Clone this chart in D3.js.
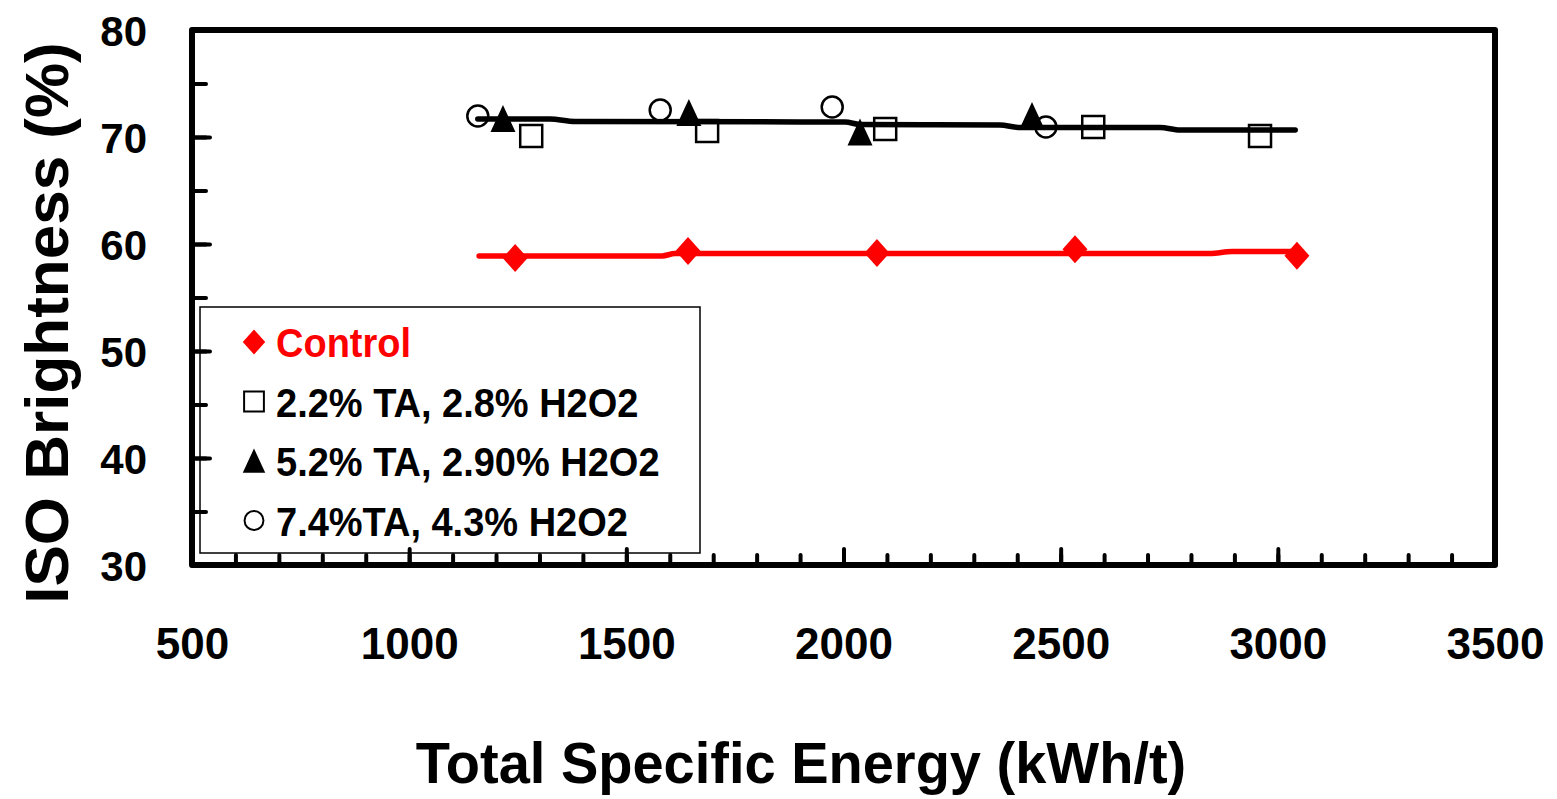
<!DOCTYPE html>
<html>
<head>
<meta charset="utf-8">
<script src="https://cdn.jsdelivr.net/npm/d3@7"></script>
<style>
  body { margin: 0; background: #fff; }
  text { font-family: "Liberation Sans", Arial, sans-serif; font-weight: bold; }
</style>
</head>
<body>
<svg id="chart" width="1557" height="799"></svg>
<script>
// data
let controlX = [1244, 1642, 2077, 2533, 3044]
let controlY = [58.7, 59.35, 59.15, 59.5, 58.9]
let ta22X = [1281, 1686, 2096, 2575, 2959]
let ta22Y = [70.1, 70.55, 70.75, 70.93, 70.1]
let ta52X = [1216, 1644, 2038, 2434]
let ta52Y = [71.68, 72.24, 70.42, 71.96]
let ta74X = [1158, 1578, 1974, 2466]
let ta74Y = [71.96, 72.52, 72.8, 70.93]

// smoothed trend lines
let blackTrendX = [1158, 1324, 1382, 2004, 2038, 2360, 2406, 2729, 2775, 3040]
let blackTrendY = [71.68, 71.68, 71.45, 71.4, 71.17, 71.12, 70.89, 70.89, 70.65, 70.65]
let redTrendX = [1161, 1582, 1612, 2844, 2895, 3051]
let redTrendY = [58.88, 58.88, 59.11, 59.11, 59.3, 59.3]

let xTicks = [500, 1000, 1500, 2000, 2500, 3000, 3500]
let yTicks = [30, 40, 50, 60, 70, 80]
let legendLabels = ['Control', '2.2% TA, 2.8% H2O2', '5.2% TA, 2.90% H2O2', '7.4%TA, 4.3% H2O2']

function zip(xs, ys) { return xs.map((x, i) => ({x: x, y: ys[i]})) }

// marker shapes
function shapePath(kind) {
    if (kind === 'diamond') return 'M0,-14L12.5,0L0,14L-12.5,0Z'
    if (kind === 'square') return 'M-11,-11H11V11H-11Z'
    if (kind === 'triangle') return 'M0,-14L12.5,13L-12.5,13Z'
    return d3.symbol().type(d3.symbolCircle).size(Math.PI * 10.5 * 10.5)()
}

let svg = d3.select('#chart')
let margin = {left: 192, right: 62, top: 30, bottom: 234}
let width = 1557, height = 799

let xScale = d3.scaleLinear().domain([500, 3500]).range([margin.left, width - margin.right])
let yScale = d3.scaleLinear().domain([30, 80]).range([height - margin.bottom, margin.top])

let lineG = d3.line()
    .x(d => xScale(d.x))
    .y(d => yScale(d.y))
    .curve(d3.curveMonotoneX)

// legend box (drawn first, axis ticks sit on top of it)
let legend = svg.append('g')
legend.append('rect')
    .attr('x', 200).attr('y', 307)
    .attr('width', 500).attr('height', 246)
    .attr('fill', '#fff')
    .attr('stroke', '#000')
    .attr('stroke-width', 1.5)

let legendKinds = ['diamond', 'square', 'triangle', 'circle']
legendLabels.forEach((lab, i) => {
    let cy = 342 + i * 59.5
    let isCtrl = i === 0
    legend.append('path')
        .attr('d', shapePath(legendKinds[i]))
        .attr('transform', `translate(254,${cy}) scale(0.9)`)
        .attr('fill', isCtrl ? '#ff0000' : (legendKinds[i] === 'triangle' ? '#000' : '#fff'))
        .attr('stroke', isCtrl ? 'none' : '#000')
        .attr('stroke-width', legendKinds[i] === 'triangle' ? 0 : 2.2)
    legend.append('text')
        .attr('transform', `translate(276,${cy + 15}) scale(1,1.06)`)
        .attr('font-size', 38)
        .attr('fill', isCtrl ? '#ff0000' : '#000')
        .text(lab)
})

// axes: ticks point inward
let axisXMinor = d3.axisBottom(xScale).tickValues(d3.range(500, 3501, 100)).tickSize(-10).tickFormat('')
let axisXMajor = d3.axisBottom(xScale).tickValues(xTicks).tickSize(-16).tickPadding(63).tickFormat(d3.format('d'))
let gx1 = svg.append('g').attr('transform', `translate(0,${yScale(30)})`).call(axisXMinor)
let gx2 = svg.append('g').attr('transform', `translate(0,${yScale(30)})`).call(axisXMajor)

let axisYMinor = d3.axisLeft(yScale).tickValues(d3.range(30, 81, 5)).tickSize(-14).tickFormat('')
let axisYMajor = d3.axisLeft(yScale).tickValues(yTicks).tickSize(-18).tickPadding(45).tickFormat(d3.format('d'))
let gy1 = svg.append('g').attr('transform', `translate(${xScale(500)},0)`).call(axisYMinor)
let gy2 = svg.append('g').attr('transform', `translate(${xScale(500)},0)`).call(axisYMajor)

;[gx1, gx2, gy1, gy2].forEach(g => {
    g.select('.domain').remove()
    g.selectAll('.tick line').attr('stroke', '#000').attr('stroke-width', 4).attr('stroke-linecap', 'round')
})
gx2.selectAll('.tick text').attr('font-size', 44).attr('fill', '#000').attr('font-family', '"Liberation Sans", Arial, sans-serif')
gy2.selectAll('.tick text').attr('font-size', 42).attr('fill', '#000').attr('font-family', '"Liberation Sans", Arial, sans-serif').attr('dy', '0.36em')

// frame
svg.append('rect')
    .attr('x', xScale(500)).attr('y', yScale(80))
    .attr('width', xScale(3500) - xScale(500))
    .attr('height', yScale(30) - yScale(80))
    .attr('fill', 'none')
    .attr('stroke', '#000')
    .attr('stroke-width', 6)
    .attr('stroke-linejoin', 'round')

// trend lines
svg.append('path')
    .datum(zip(redTrendX, redTrendY))
    .attr('d', lineG)
    .attr('fill', 'none').attr('stroke', '#ff0000')
    .attr('stroke-width', 5.5).attr('stroke-linecap', 'round')
svg.append('path')
    .datum(zip(blackTrendX, blackTrendY))
    .attr('d', lineG)
    .attr('fill', 'none').attr('stroke', '#000')
    .attr('stroke-width', 5.5).attr('stroke-linecap', 'round')

// markers
function drawMarkers(pts, kind, fill, stroke, sw) {
    svg.append('g').selectAll('path')
        .data(pts)
        .join('path')
        .attr('d', shapePath(kind))
        .attr('transform', d => `translate(${xScale(d.x)},${yScale(d.y)})`)
        .attr('fill', fill)
        .attr('stroke', stroke)
        .attr('stroke-width', sw)
}
drawMarkers(zip(ta74X, ta74Y), 'circle', 'none', '#000', 2.5)
drawMarkers(zip(ta52X, ta52Y), 'triangle', '#000', 'none', 0)
drawMarkers(zip(ta22X, ta22Y), 'square', 'none', '#000', 2.5)
drawMarkers(zip(controlX, controlY), 'diamond', '#ff0000', 'none', 0)

// axis titles
svg.append('text')
    .attr('transform', 'translate(801,783) scale(1,1.04)')
    .attr('text-anchor', 'middle')
    .attr('font-size', 56)
    .text('Total Specific Energy (kWh/t)')
svg.append('text')
    .attr('transform', 'translate(68,323) rotate(-90)')
    .attr('text-anchor', 'middle')
    .attr('font-size', 62)
    .text('ISO Brightness (%)')
</script>
</body>
</html>
